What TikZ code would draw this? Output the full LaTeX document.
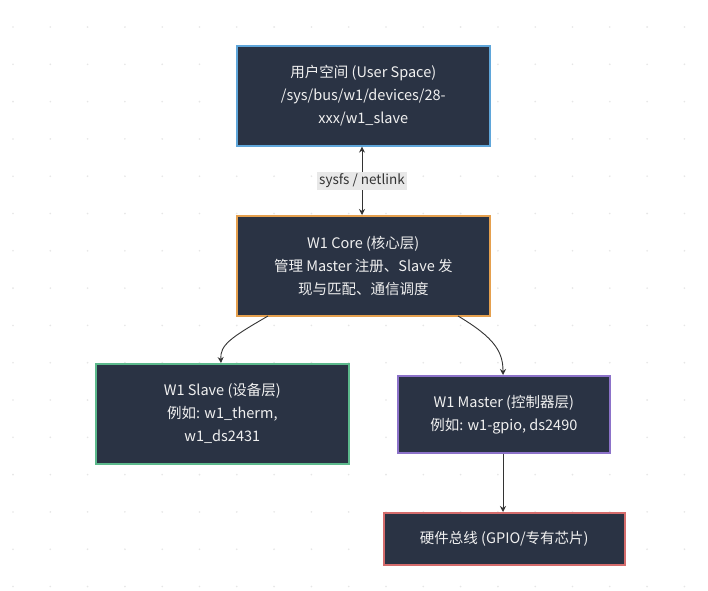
\documentclass[tikz,border=0pt]{standalone}
\usepackage{fontspec}
\setmainfont{Noto Sans CJK SC}
\usetikzlibrary{arrows.meta}
\definecolor{boxfill}{HTML}{2A3344}
\definecolor{cblue}{HTML}{5FA6DA}
\definecolor{corange}{HTML}{E5A04E}
\definecolor{cgreen}{HTML}{5CB98C}
\definecolor{cpurple}{HTML}{8C72C9}
\definecolor{cred}{HTML}{D46C6C}
\definecolor{lineclr}{HTML}{333333}
\definecolor{dotclr}{HTML}{E6E6E6}
\tikzset{
  layerbox/.style={draw, line width=1.6pt, fill=boxfill, text=white!94!black,
    font=\fontsize{14.5}{23}\selectfont, align=center, inner sep=0pt, anchor=north west},
  conn/.style={draw=lineclr, line width=0.9pt, -{Stealth[length=6pt,width=6pt]}},
  lbl/.style={fill=gray!18, text=black!80, font=\fontsize{13.5}{15}\selectfont, inner sep=2pt}
}
\begin{document}
\begin{tikzpicture}[x=1pt,y=-1pt]
\useasboundingbox[fill=white] (0,0) rectangle (708,590);
\foreach \i in {0,...,18}{\foreach \j in {0,...,15}{
  \fill[dotclr] (13+37.3*\i,27+37.3*\j) circle (0.9pt);}}
\node[layerbox, draw=cblue, minimum width=253pt, minimum height=100pt] (user) at (236,45)
  {用户空间 (User Space)\\/sys/bus/w1/devices/28-\\xxx/w1\_slave};
\node[layerbox, draw=corange, minimum width=253pt, minimum height=100pt] (core) at (236,215)
  {W1 Core (核心层)\\管理 Master 注册、Slave 发\\现与匹配、通信调度};
\node[layerbox, draw=cgreen, minimum width=253pt, minimum height=100pt] (slave) at (95,363)
  {W1 Slave (设备层)\\例如: w1\_therm,\\w1\_ds2431};
\node[layerbox, draw=cpurple, minimum width=212pt, minimum height=77pt] (master) at (397,375)
  {W1 Master (控制器层)\\例如: w1-gpio, ds2490};
\node[layerbox, draw=cred, minimum width=241pt, minimum height=52pt] (hw) at (383,512)
  {硬件总线 (GPIO/专有芯片)};
\draw[conn, {Stealth[length=6pt,width=6pt]}-{Stealth[length=6pt,width=6pt]}]
  (user.south -| 362,0) -- node[lbl] {sysfs / netlink} (core.north -| 362,0);
\coordinate (c1) at (268,316);
\coordinate (c2) at (458,316);
\draw[conn] (c1) .. controls (230,338) and (220,345) .. (slave.north -| 221,0);
\draw[conn] (c2) .. controls (495,338) and (503,352) .. (master.north -| 503,0);
\draw[conn] (master.south -| 503,0) -- (hw.north -| 503,0);
\end{tikzpicture}
\end{document}
